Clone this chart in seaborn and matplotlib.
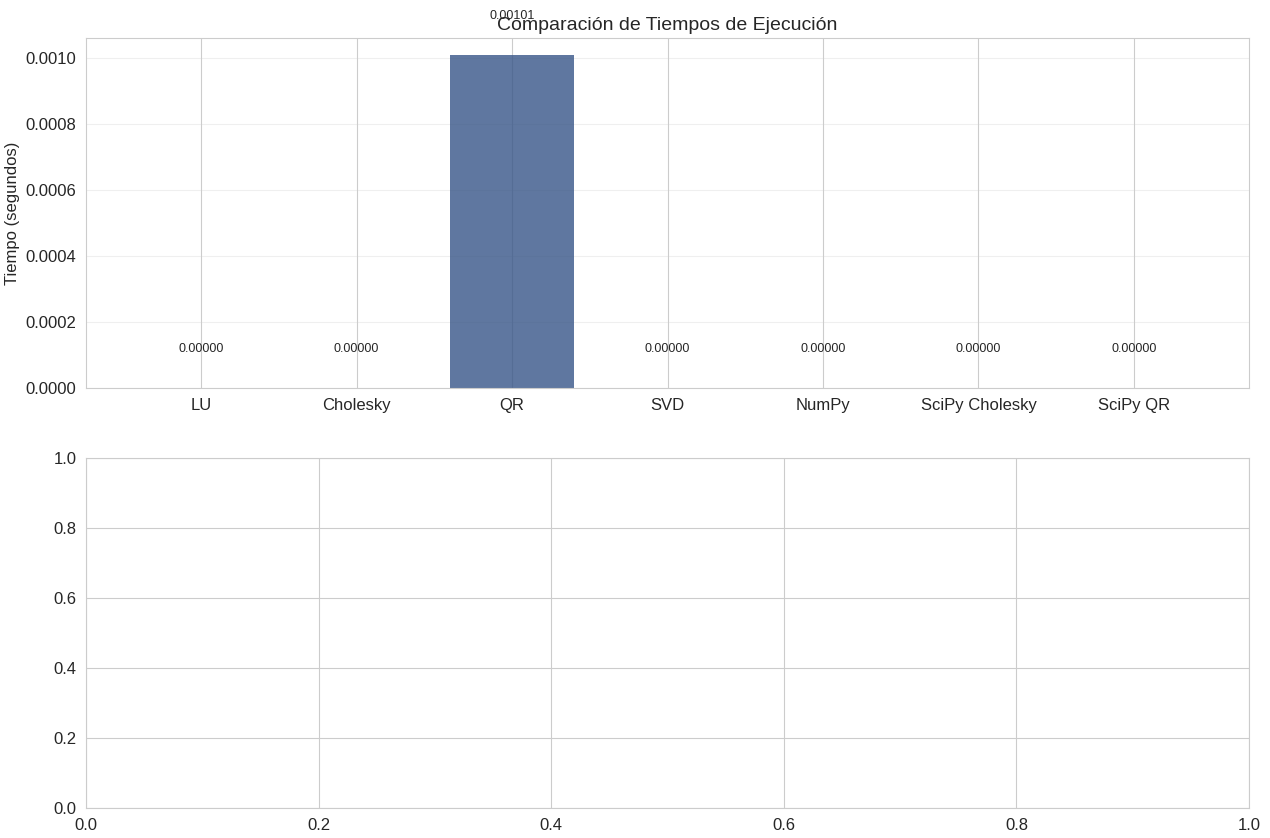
import matplotlib
matplotlib.use("Agg")
import matplotlib.pyplot as plt
import seaborn as sns
import pandas as pd

metodos = ["LU", "Cholesky", "QR", "SVD", "NumPy", "SciPy Cholesky", "SciPy QR"]
tiempos = [0.0, 0.0, 0.00101, 0.0, 0.0, 0.0, 0.0]

sns.set_style("whitegrid")
plt.rcParams["font.family"] = ["Liberation Sans", "DejaVu Sans"]
plt.rcParams["xtick.labelsize"] = 12
plt.rcParams["ytick.labelsize"] = 12
plt.rcParams["axes.labelsize"] = 12
plt.rcParams["axes.titlesize"] = 14

df = pd.DataFrame({"Método": metodos, "Tiempo": tiempos})

fig, (ax1, ax2) = plt.subplots(2, 1, figsize=(12.7, 8.38), dpi=100)
fig.subplots_adjust(left=86 / 1270, right=1249 / 1270,
                    top=1 - 38 / 838, bottom=1 - 808 / 838, hspace=0.2)

sns.barplot(data=df, x="Método", y="Tiempo", ax=ax1, color="#375588",
            saturation=1, alpha=0.8, width=0.8, edgecolor="none")
ax1.set_title("Comparación de Tiempos de Ejecución")
ax1.set_xlabel("")
ax1.set_ylabel("Tiempo (segundos)")
# matplotlib-style x margins and grid
ax1.set_autoscalex_on(True)
ax1.margins(x=0.05)
ax1.relim()
ax1.autoscale_view(scaley=False)
ax1.xaxis.grid(True)
ax1.yaxis.grid(True, alpha=0.3)

for i, v in enumerate(tiempos):
    ax1.text(i, v + 0.0001, f"{v:.5f}", ha="center", va="bottom", fontsize=9)

fig.savefig("out.png", dpi=100)
